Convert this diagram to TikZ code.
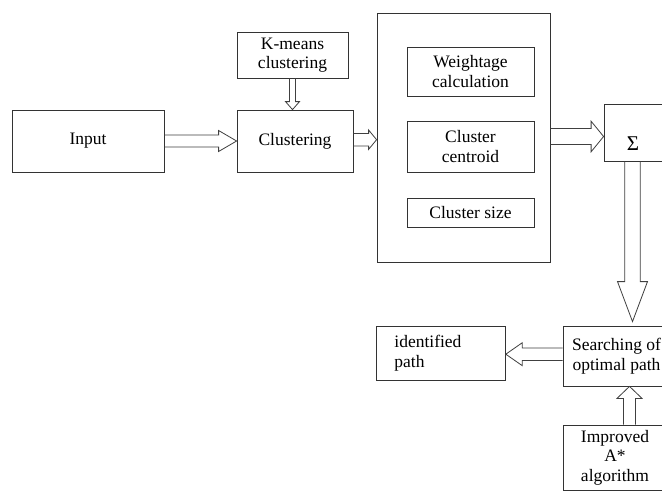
\documentclass[tikz,border=0pt]{standalone}
\usepackage{fontspec}
\setmainfont{Liberation Serif}
\usetikzlibrary{calc}
\tikzset{
  every node/.style={font=\fontsize{17.5}{19.5}\selectfont, text=black},
  box/.style={draw=black!80, line width=0.8pt, rectangle, inner sep=2pt, align=center},
  blk/.style={draw=black!75, line width=0.8pt, line join=miter},
}
% right, left, down, up block arrows: #1 source, #2 target, #3 half shaft, #4 half head, #5 head length
\newcommand\arrR[5]{\draw[blk] let \p1=#1,\p2=#2 in (\x1,\y1+#3) -- (\x2-#5,\y1+#3) -- (\x2-#5,\y1+#4) -- (\x2,\y1) -- (\x2-#5,\y1-#4) -- (\x2-#5,\y1-#3) -- (\x1,\y1-#3);}
\newcommand\arrL[5]{\draw[blk] let \p1=#1,\p2=#2 in (\x1,\y1+#3) -- (\x2+#5,\y1+#3) -- (\x2+#5,\y1+#4) -- (\x2,\y1) -- (\x2+#5,\y1-#4) -- (\x2+#5,\y1-#3) -- (\x1,\y1-#3);}
\newcommand\arrD[5]{\draw[blk] let \p1=#1,\p2=#2 in (\x1-#3,\y1) -- (\x1-#3,\y2+#5) -- (\x1-#4,\y2+#5) -- (\x1,\y2) -- (\x1+#4,\y2+#5) -- (\x1+#3,\y2+#5) -- (\x1+#3,\y1);}
\newcommand\arrU[5]{\draw[blk] let \p1=#1,\p2=#2 in (\x1-#3,\y1) -- (\x1-#3,\y2-#5) -- (\x1-#4,\y2-#5) -- (\x1,\y2) -- (\x1+#4,\y2-#5) -- (\x1+#3,\y2-#5) -- (\x1+#3,\y1);}
\begin{document}
\begin{tikzpicture}[x=1pt,y=-1pt]
\useasboundingbox (0,0) rectangle (662,491);
\clip (0,0) rectangle (662,491);
\fill[white] (0,0) rectangle (662,491);

\node[box, minimum width=152pt, minimum height=62pt] (in) at (88,141) {Input};
\node[box, minimum width=116pt, minimum height=62pt] (clu) at (295,141) {Clustering};
\node[box, minimum width=111pt, minimum height=46pt] (km) at (292.5,55) {K-means\\clustering};
\node[box, minimum width=173pt, minimum height=249pt] (big) at (463.5,137.5) {};
\node[box, minimum width=127pt, minimum height=49pt] (wt) at (470.5,71.5) {Weightage\\calculation};
\node[box, minimum width=127pt, minimum height=51pt] (cc) at (470.5,146.5) {Cluster\\centroid};
\node[box, minimum width=127pt, minimum height=29pt] (cs) at (470.5,212.5) {Cluster size};
\node[box, minimum width=70pt, minimum height=57pt] (sig) at (639,132.5) {\raisebox{-18pt}[0pt][0pt]{\fontsize{21}{21}\selectfont Σ}\hspace*{12pt}};
\node[box, minimum width=107pt, minimum height=60pt] (search) at (616.5,356) {Searching of\\optimal path};
\node[box, minimum width=104pt, minimum height=65pt] (imp) at (615,457.5) {Improved\\A*\\algorithm};
\node[box, anchor=west, text width=93pt, inner xsep=18pt, minimum height=54pt, align=left] (ident) at (376,353) {identified\\path};

\arrR{(in.east)}{(clu.west)}{6pt}{10.5pt}{18pt}
\arrD{(km.south)}{(clu.north)}{3pt}{7pt}{8pt}
\arrR{($(clu.east)+(0,-1.3)$)}{(big.west)}{6.3pt}{9.7pt}{8pt}
\arrR{($(big.east)+(0,-1)$)}{(sig.west)}{8pt}{15.3pt}{12.5pt}
\arrD{($(sig.south)+(-6.5,0)$)}{($(search.north)+(0,-4)$)}{7.8pt}{15pt}{40pt}
\arrL{($(search.west)+(0,-1.8)$)}{(ident.east)}{6.2pt}{11.5pt}{16.5pt}
\arrU{($(imp.north)+(14.5,0)$)}{(search.south)}{6pt}{12.5pt}{12pt}
\end{tikzpicture}
\end{document}
